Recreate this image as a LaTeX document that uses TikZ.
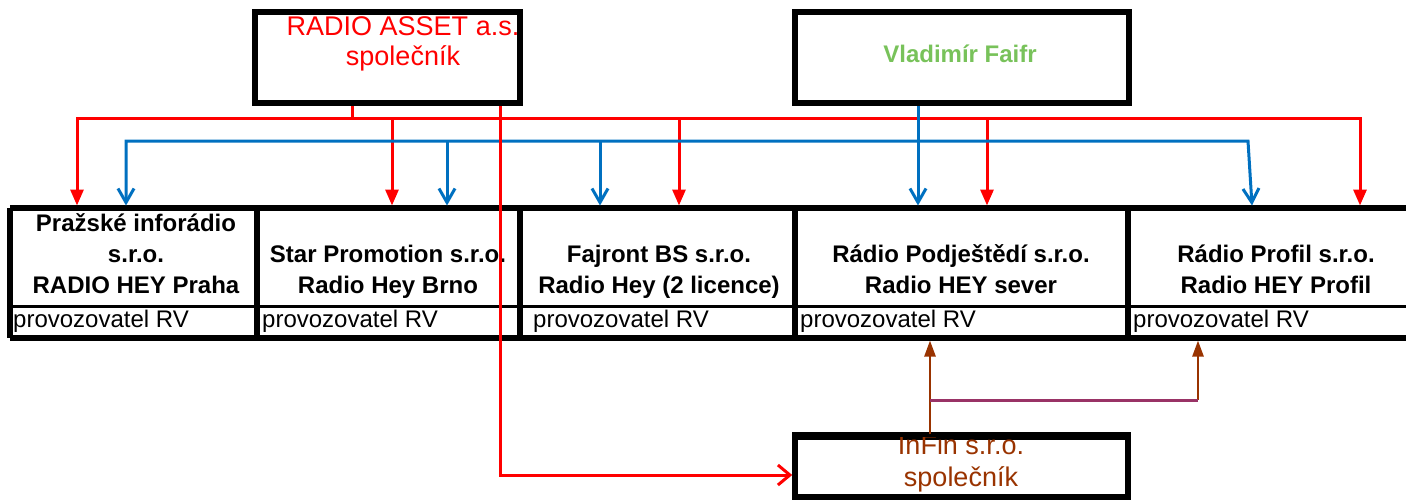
\documentclass[tikz,border=0pt]{standalone}
\usepackage{fontspec}
\setmainfont{Liberation Sans}
\usetikzlibrary{arrows.meta,math}
\definecolor{assetred}{RGB}{255,0,0}
\definecolor{heyblue}{RGB}{0,112,192}
\definecolor{faifrgreen}{RGB}{120,194,90}
\definecolor{infinbrown}{RGB}{153,51,0}
\definecolor{infinpurple}{RGB}{153,51,102}

\begin{document}
\begin{tikzpicture}[x=1pt, y=-1pt,
  ownerbox/.style={draw, line width=5.5pt, inner sep=0pt},
  ownertext/.style={align=center, inner sep=0pt, text depth=0pt, anchor=south},
  firm/.style={font=\fontsize{24}{31}\selectfont\bfseries, align=center, inner sep=0pt, text depth=0pt, anchor=south},
  licence/.style={font=\fontsize{24}{24}\selectfont, inner sep=0pt, anchor=base west},
  rowframe/.style={line width=5.5pt},
  redline/.style={draw=assetred, line width=3pt},
  blueline/.style={draw=heyblue, line width=3pt},
  redtip/.tip={Triangle[width=13pt,length=16pt]},
  bluetip/.tip={Straight Barb[width=16pt,length=14pt]},
  browntip/.tip={Triangle[width=11pt,length=16pt]}]
  \tikzmath{\rowtop = 208; \rowmid = 306; \rowbot = 338;}
  \useasboundingbox (0,0) rectangle (1406,499);

  % owners
  \node[ownerbox, minimum width=265pt, minimum height=91pt] (asset) at (387.5,57.5) {};
  \node[ownertext, text=assetred, font=\fontsize{27}{30}\selectfont] (assettxt) at (403,66) {RADIO ASSET a.s.\\společník};
  \node[ownerbox, minimum width=334pt, minimum height=91pt] (faifr) at (962,57.5) {};
  \node[ownertext, text=faifrgreen, font=\fontsize{24}{24}\selectfont\bfseries] (faifrtxt) at (960,63) {Vladimír Faifr};
  \node[ownerbox, minimum width=333pt, minimum height=60pt] (infin) at (961.5,467) {};
  \node[ownertext, text=infinbrown, font=\fontsize{27}{32}\selectfont] (infintxt) at (961,487) {InFin s.r.o.\\společník};
  \draw[line width=5.5pt] (infin.north west) -- (infin.north east);

  % licence holders
  \draw[rowframe] (10,\rowtop) -- (1410,\rowtop);
  \draw[rowframe] (10,\rowbot) -- (1410,\rowbot);
  \draw[line width=3pt] (10,\rowmid) -- (1410,\rowmid);
  \draw[rowframe] (10,\rowtop) -- (10,\rowbot);
  \draw[rowframe] (257,\rowtop) -- (257,\rowbot);
  \draw[rowframe] (520,\rowtop) -- (520,\rowbot);
  \draw[rowframe] (795,\rowtop) -- (795,\rowbot);
  \draw[rowframe] (1128,\rowtop) -- (1128,\rowbot);

  \node[firm] (praha) at (136,294) {Pražské inforádio\\s.r.o.\\RADIO HEY Praha};
  \node[firm] (brno) at (388,294) {Star Promotion s.r.o.\\Radio Hey Brno};
  \node[firm] (fajront) at (659,294) {Fajront BS s.r.o.\\Radio Hey (2 licence)};
  \node[firm] (sever) at (961,294) {Rádio Podještědí s.r.o.\\Radio HEY sever};
  \node[firm] (profil) at (1276,294) {Rádio Profil s.r.o.\\Radio HEY Profil};

  \node[licence] (rv1) at (13,327) {provozovatel RV};
  \node[licence] (rv2) at (262,327) {provozovatel RV};
  \node[licence] (rv3) at (533,327) {provozovatel RV};
  \node[licence] (rv4) at (800,327) {provozovatel RV};
  \node[licence] (rv5) at (1133,327) {provozovatel RV};

  \coordinate (rowedge) at (0,205.5);
  \coordinate (rowfoot) at (0,340.5);

  % RADIO ASSET
  \coordinate (rbus) at (352,118);
  \coordinate (rleft) at (77,118);
  \coordinate (rright) at (1360,118);
  \coordinate (rbrno) at (392,118);
  \coordinate (rfajront) at (679,118);
  \coordinate (rsever) at (987,118);
  \draw[redline] (asset.south -| rbus) -- (rbus);
  \draw[redline, redtip-redtip] (rleft |- rowedge) -- (rleft) -- (rright) -- (rright |- rowedge);
  \draw[redline, -redtip] (rbrno) -- (rbrno |- rowedge);
  \draw[redline, -redtip] (rfajront) -- (rfajront |- rowedge);
  \draw[redline, -redtip] (rsever) -- (rsever |- rowedge);

  % Vladimir Faifr
  \coordinate (bleft) at (126,141);
  \coordinate (bright) at (1248,141);
  \coordinate (bprofil) at (1252,141);
  \coordinate (bbrno) at (447,141);
  \coordinate (bfajront) at (600,141);
  \coordinate (bsever) at (918,141);
  \draw[blueline, bluetip-bluetip] (bleft |- rowedge) -- (bleft) -- (bright) -- (bprofil |- rowedge);
  \draw[blueline, -bluetip] (bbrno) -- (bbrno |- rowedge);
  \draw[blueline, -bluetip] (bfajront) -- (bfajront |- rowedge);
  \draw[blueline, -bluetip] (faifr.south -| bsever) -- (bsever |- rowedge);

  % RADIO ASSET -> InFin
  \coordinate (rcorner) at (500,475);
  \draw[redline, -{Straight Barb[width=20pt,length=12pt]}] (asset.south -| rcorner) -- (rcorner) -- (rcorner -| infin.west);

  % InFin
  \coordinate (ileft) at (930,400);
  \coordinate (iright) at (1198,400);
  \draw[draw=infinbrown, line width=2.5pt, -browntip] (infin.north -| ileft) -- (ileft |- rowfoot);
  \draw[draw=infinbrown, line width=2.5pt, -browntip] (iright) -- (iright |- rowfoot);
  \draw[draw=infinpurple, line width=3pt] (ileft) -- (iright);
\end{tikzpicture}
\end{document}
